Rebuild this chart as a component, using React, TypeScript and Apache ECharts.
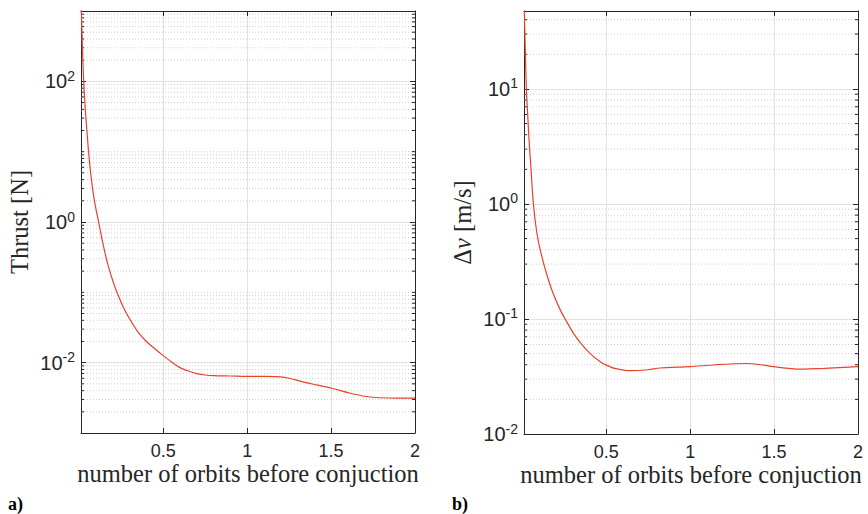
import React, { useEffect, useRef } from 'react';
import * as echarts from 'echarts';

// ---- data ----
const thrustX = [0.01, 0.012, 0.018, 0.026, 0.035, 0.045, 0.058, 0.071, 0.09, 0.115, 0.14, 0.17, 0.21, 0.26, 0.3, 0.35, 0.4, 0.45, 0.5, 0.55, 0.6, 0.65, 0.7, 0.75, 0.8, 0.9, 1.0, 1.1, 1.2, 1.25, 1.3, 1.335, 1.42, 1.5, 1.61, 1.71, 1.79, 1.9, 2.0];
const thrustY = [1400, 1000, 330, 100, 42, 20, 8.3, 4.2, 2.0, 1.0, 0.5, 0.25, 0.123, 0.063, 0.0417, 0.0272, 0.02, 0.0158, 0.0126, 0.0102, 0.0085, 0.0076, 0.007, 0.00668, 0.00653, 0.00646, 0.00638, 0.00637, 0.00628, 0.006, 0.0056, 0.0053, 0.0048, 0.00436, 0.0037, 0.0033, 0.00317, 0.00313, 0.00313];

const dvX = [0.012, 0.018, 0.024, 0.032, 0.04, 0.05, 0.066, 0.087, 0.11, 0.147, 0.185, 0.226, 0.26, 0.305, 0.35, 0.405, 0.464, 0.504, 0.55, 0.643, 0.75, 0.82, 1.0, 1.15, 1.338, 1.42, 1.496, 1.655, 1.8, 2.0];
const dvY = [47.6, 21, 10, 6.0, 3.6, 2.2, 1.0, 0.556, 0.38, 0.24, 0.165, 0.12, 0.097, 0.075, 0.061, 0.05, 0.0425, 0.0395, 0.0372, 0.0355, 0.0362, 0.0375, 0.0385, 0.040, 0.041, 0.040, 0.0385, 0.0367, 0.0372, 0.0385];

const xMin = 0.01;
const xMax = 2;
const xTicks = [0.5, 1, 1.5, 2];

const thrustYMin = 1e-3;
const thrustYMax = 1e3;
const thrustMajor = [1e-2, 1, 1e2];
const dvYMin = 1e-2;
const dvYMax = 47.6;
const dvMajor = [1e-2, 1e-1, 1, 1e1];

const mantissas = [2, 3, 4, 5, 6, 7, 8, 9];
const thrustMinorDecades = [-3, -2, -1, 0, 1, 2];
const thrustOddDecades = [1e-1, 1e1];
const dvMinorDecades = [-2, -1, 0, 1];

const thrustMinor = thrustMinorDecades
  .flatMap((k) => mantissas.map((m) => m * Math.pow(10, k)))
  .concat(thrustOddDecades);
const dvMinor = dvMinorDecades
  .flatMap((k) => mantissas.map((m) => m * Math.pow(10, k)))
  .filter((v) => v < dvYMax);

const AX = '#262626';
const SANS = 'Liberation Sans';
const SERIF = 'Liberation Serif';
const GRID = '#e2e2e2';

function logLabel(v: number) {
  const e = Math.round(Math.log10(v));
  return `{b|10}{s|${e}}`;
}

function decor(gridIdx: number, values: number[]) {
  return {
    type: 'custom',
    xAxisIndex: gridIdx * 2,
    yAxisIndex: gridIdx * 2,
    silent: true,
    z: 1,
    data: values.map((v) => [xMin, v]),
    renderItem: (params: any, api: any) => {
      const v = api.value(1);
      const p0 = api.coord([xMin, v]);
      const p1 = api.coord([xMax, v]);
      return {
        type: 'group',
        children: [
          {
            type: 'line',
            shape: { x1: p0[0], y1: p0[1], x2: p1[0], y2: p1[1] },
            style: { stroke: '#c4c4c4', lineWidth: 0.8, lineDash: [1, 2] },
          },
          {
            type: 'line',
            shape: { x1: p0[0], y1: p0[1], x2: p0[0] + 3, y2: p0[1] },
            style: { stroke: AX, lineWidth: 1 },
          },
          {
            type: 'line',
            shape: { x1: p1[0] - 3, y1: p1[1], x2: p1[0], y2: p1[1] },
            style: { stroke: AX, lineWidth: 1 },
          },
        ],
      };
    },
  };
}

function xAxes(gridIndex: number) {
  const base = {
    type: 'value',
    gridIndex,
    min: xMin,
    max: xMax,
    axisLine: { show: true, onZero: false, lineStyle: { color: AX, width: 1 } },
    axisTick: { show: true, inside: true, length: 5, customValues: xTicks, lineStyle: { color: AX } },
  };
  return [
    {
      ...base,
      position: 'bottom',
      name: 'number of orbits before conjuction',
      nameLocation: 'middle',
      nameGap: 28,
      nameMoveOverlap: false,
      nameTextStyle: { fontFamily: SERIF, fontSize: 24.5, color: AX },
      axisLabel: {
        color: AX,
        fontFamily: SANS,
        fontSize: 18,
        margin: 9,
        customValues: xTicks,
        formatter: (v: number) => String(v),
      },
      splitLine: { show: true, lineStyle: { color: GRID, width: 1 } },
    },
    {
      ...base,
      position: 'top',
      axisLabel: { show: false },
      splitLine: { show: false },
    },
  ];
}

function yAxes(gridIndex: number, min: number, max: number, majors: number[], name: string) {
  const base = {
    type: 'log',
    logBase: 10,
    gridIndex,
    min,
    max,
    axisLine: { show: true, onZero: false, lineStyle: { color: AX, width: 1 } },
    axisTick: { show: true, inside: true, length: 5, customValues: majors, lineStyle: { color: AX } },
  };
  return [
    {
      ...base,
      position: 'left',
      name,
      nameLocation: 'middle',
      nameGap: 49,
      nameRotate: 90,
      nameMoveOverlap: false,
      nameTextStyle: {
        fontFamily: SERIF,
        fontSize: 24.5,
        color: AX,
        rich: {
          it: { fontFamily: SERIF, fontSize: 24.5, fontStyle: 'italic', color: AX },
        },
      },
      axisLabel: {
        color: AX,
        margin: 6,
        customValues: majors,
        formatter: logLabel,
        rich: {
          b: { fontFamily: SANS, fontSize: 20, lineHeight: 25, color: AX },
          s: { fontFamily: SANS, fontSize: 14, verticalAlign: 'top', color: AX },
        },
      },
      splitLine: { show: true, lineStyle: { color: GRID, width: 1 } },
    },
    {
      ...base,
      position: 'right',
      axisLabel: { show: false },
      splitLine: { show: false },
    },
  ];
}

export default function App() {
  const ref = useRef<HTMLDivElement>(null);
  useEffect(() => {
    if (!ref.current) return;
    const chart = echarts.init(ref.current, undefined, { renderer: 'svg' });
    chart.setOption({
      animation: false,
      backgroundColor: '#ffffff',
      grid: [
        { left: 81, top: 11, width: 334, height: 422 },
        { left: 524, top: 11, width: 334, height: 423 },
      ],
      xAxis: [...xAxes(0), ...xAxes(1)],
      yAxis: [
        ...yAxes(0, thrustYMin, thrustYMax, thrustMajor, 'Thrust [N]'),
        ...yAxes(1, dvYMin, dvYMax, dvMajor, 'Δ{it|v} [m/s]'),
      ],
      series: [
        decor(0, thrustMinor),
        decor(1, dvMinor),
        {
          type: 'line',
          xAxisIndex: 0,
          yAxisIndex: 0,
          data: thrustX.map((x, i) => [x, thrustY[i]]),
          showSymbol: false,
          smooth: 0.3,
          clip: true,
          z: 5,
          lineStyle: { color: '#e8412c', width: 1.2 },
        },
        {
          type: 'line',
          xAxisIndex: 2,
          yAxisIndex: 2,
          data: dvX.map((x, i) => [x, dvY[i]]),
          showSymbol: false,
          smooth: 0.3,
          clip: true,
          z: 5,
          lineStyle: { color: '#e8412c', width: 1.2 },
        },
      ],
      graphic: [
        {
          type: 'text',
          left: 8,
          top: 495,
          style: { text: 'a)', font: `bold 18px ${SERIF}`, fill: '#000' },
        },
        {
          type: 'text',
          left: 452,
          top: 495,
          style: { text: 'b)', font: `bold 18px ${SERIF}`, fill: '#000' },
        },
      ],
    });
    return () => chart.dispose();
  }, []);
  return <div ref={ref} style={{ position: 'fixed', left: 0, top: 0, width: 868, height: 514 }} />;
}
